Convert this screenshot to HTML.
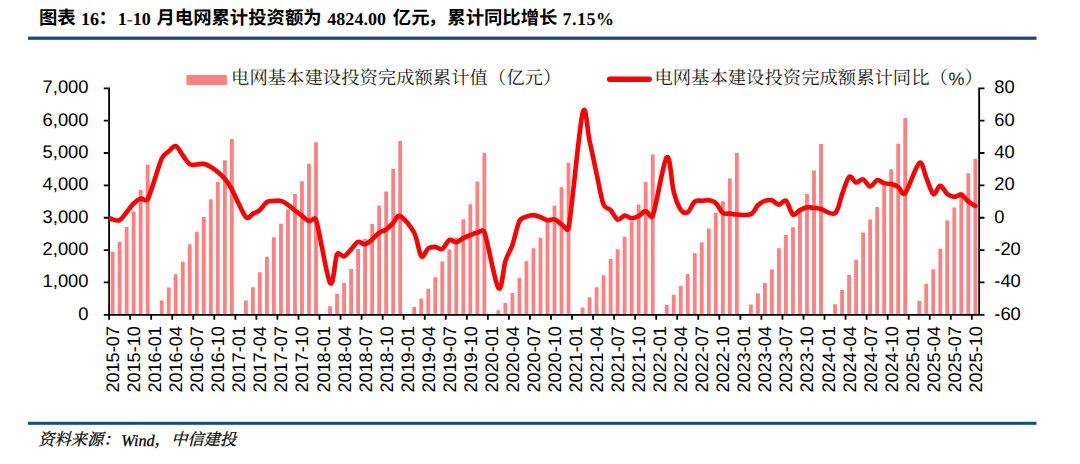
<!DOCTYPE html>
<html lang="zh-CN">
<head>
<meta charset="utf-8">
<title>图表 16：1-10 月电网累计投资额为 4824.00 亿元，累计同比增长 7.15%</title>
<style>
html,body{margin:0;padding:0;background:#fff}
body{width:1080px;height:464px;position:relative;overflow:hidden;font-family:"Liberation Sans",sans-serif;text-rendering:geometricPrecision}
svg text{text-rendering:geometricPrecision}
#g{position:absolute;left:0;top:0;width:1080px;height:464px;display:block}
.row{position:absolute;left:0;width:1080px;white-space:nowrap;margin:0;color:#000}
.row span{position:absolute;top:0;white-space:nowrap}
#title{top:8.63px;height:20px;line-height:20px;font:bold 18px/20px "Liberation Serif",serif}
#source{top:431.6px;height:18px;font:italic 16.25px/18px "Liberation Serif",serif;-webkit-text-stroke:0.25px #000}
.hy{font-style:normal;color:#555;position:relative;top:.6px}
.cj{font-size:18.35px}
#title .cj{font-family:"Liberation Sans","Noto Sans CJK SC",sans-serif;top:-1.06px}
#legend .cj{font-family:"Liberation Serif","Noto Serif CJK SC",serif;top:-1.16px}
#source .cj{font-family:"Liberation Serif","Noto Serif CJK SC",serif;font-size:16.25px;top:-0.8px}
#legend{top:69.16px;height:20px;font:18px/20px "Liberation Sans",sans-serif;color:#1a1a1a}
</style>
</head>
<body>
<svg id="g" width="1080" height="464" viewBox="0 0 1080 464">
<rect x="28" y="36.6" width="1008.5" height="3.2" fill="#1c457b"/>
<rect x="28" y="421.8" width="1008.5" height="3" fill="#0e4e84"/>
<path fill="#ff8080" d="M110.71 314.8V251.7h3.8V314.8zM117.72 314.8V241.67h3.8V314.8zM124.73 314.8V226.89h3.8V314.8zM131.75 314.8V211.61h3.8V314.8zM138.76 314.8V190.06h3.8V314.8zM145.78 314.8V164.66h3.8V314.8zM159.8 314.8V300.53h3.8V314.8zM166.82 314.8V287.52h3.8V314.8zM173.83 314.8V274.22h3.8V314.8zM180.85 314.8V261.7h3.8V314.8zM187.86 314.8V244.16h3.8V314.8zM194.87 314.8V231.64h3.8V314.8zM201.89 314.8V217.11h3.8V314.8zM208.9 314.8V199.29h3.8V314.8zM215.92 314.8V182.07h3.8V314.8zM222.93 314.8V160.33h3.8V314.8zM229.94 314.8V139.1h3.8V314.8zM243.97 314.8V300.53h3.8V314.8zM250.99 314.8V287.26h3.8V314.8zM258 314.8V272.22h3.8V314.8zM265.01 314.8V256.69h3.8V314.8zM272.03 314.8V237.18h3.8V314.8zM279.04 314.8V223.65h3.8V314.8zM286.06 314.8V209.61h3.8V314.8zM293.07 314.8V194.04h3.8V314.8zM300.09 314.8V181.29h3.8V314.8zM307.1 314.8V163.82h3.8V314.8zM314.11 314.8V142.34h3.8V314.8zM328.14 314.8V306.29h3.8V314.8zM335.16 314.8V293.77h3.8V314.8zM342.17 314.8V282.86h3.8V314.8zM349.18 314.8V269.05h3.8V314.8zM356.2 314.8V248.92h3.8V314.8zM363.21 314.8V238.86h3.8V314.8zM370.23 314.8V224.1h3.8V314.8zM377.24 314.8V205.66h3.8V314.8zM384.25 314.8V191.39h3.8V314.8zM391.27 314.8V168.84h3.8V314.8zM398.28 314.8V140.95h3.8V314.8zM412.31 314.8V306.9h3.8V314.8zM419.32 314.8V298.56h3.8V314.8zM426.34 314.8V288.82h3.8V314.8zM433.35 314.8V277.36h3.8V314.8zM440.37 314.8V261.6h3.8V314.8zM447.38 314.8V249.41h3.8V314.8zM454.39 314.8V237.85h3.8V314.8zM461.41 314.8V219.25h3.8V314.8zM468.42 314.8V204.3h3.8V314.8zM475.44 314.8V181.62h3.8V314.8zM482.45 314.8V152.63h3.8V314.8zM496.48 314.8V310.33h3.8V314.8zM503.49 314.8V302.99h3.8V314.8zM510.5 314.8V293.12h3.8V314.8zM517.52 314.8V278.11h3.8V314.8zM524.53 314.8V261.18h3.8V314.8zM531.55 314.8V248.37h3.8V314.8zM538.56 314.8V237.79h3.8V314.8zM545.58 314.8V219.99h3.8V314.8zM552.59 314.8V205.72h3.8V314.8zM559.6 314.8V187.25h3.8V314.8zM566.62 314.8V162.75h3.8V314.8zM580.64 314.8V307.45h3.8V314.8zM587.66 314.8V297.33h3.8V314.8zM594.67 314.8V287.23h3.8V314.8zM601.69 314.8V275.16h3.8V314.8zM608.7 314.8V258.69h3.8V314.8zM615.72 314.8V249.15h3.8V314.8zM622.73 314.8V236.85h3.8V314.8zM629.74 314.8V221.26h3.8V314.8zM636.76 314.8V204.53h3.8V314.8zM643.77 314.8V182.07h3.8V314.8zM650.79 314.8V154.6h3.8V314.8zM664.81 314.8V304.67h3.8V314.8zM671.83 314.8V294.71h3.8V314.8zM678.84 314.8V285.91h3.8V314.8zM685.86 314.8V273.93h3.8V314.8zM692.87 314.8V253.16h3.8V314.8zM699.88 314.8V242.35h3.8V314.8zM706.9 314.8V228.5h3.8V314.8zM713.91 314.8V212.75h3.8V314.8zM720.93 314.8V201.19h3.8V314.8zM727.94 314.8V178.61h3.8V314.8zM734.95 314.8V152.63h3.8V314.8zM748.98 314.8V304.48h3.8V314.8zM756 314.8V293.19h3.8V314.8zM763.01 314.8V282.96h3.8V314.8zM770.02 314.8V269.5h3.8V314.8zM777.04 314.8V248.34h3.8V314.8zM784.05 314.8V234.78h3.8V314.8zM791.07 314.8V227.27h3.8V314.8zM798.08 314.8V208.44h3.8V314.8zM805.09 314.8V194.08h3.8V314.8zM812.11 314.8V170.55h3.8V314.8zM819.12 314.8V144.12h3.8V314.8zM833.15 314.8V304.22h3.8V314.8zM840.16 314.8V290.01h3.8V314.8zM847.18 314.8V275.03h3.8V314.8zM854.19 314.8V259.7h3.8V314.8zM861.21 314.8V232.61h3.8V314.8zM868.22 314.8V219.44h3.8V314.8zM875.23 314.8V207.05h3.8V314.8zM882.25 314.8V185.95h3.8V314.8zM889.26 314.8V169.13h3.8V314.8zM896.28 314.8V143.63h3.8V314.8zM903.29 314.8V117.97h3.8V314.8zM917.32 314.8V300.69h3.8V314.8zM924.33 314.8V283.87h3.8V314.8zM931.35 314.8V269.24h3.8V314.8zM938.36 314.8V248.79h3.8V314.8zM945.37 314.8V220.61h3.8V314.8zM952.39 314.8V207.54h3.8V314.8zM959.4 314.8V191.97h3.8V314.8zM966.42 314.8V173.14h3.8V314.8zM973.43 314.8V158.71h3.8V314.8z"/>
<path fill="none" stroke="#000" stroke-width="1.8" d="M109.1 87.4V315.7M979.15 87.4V315.7M103.8 314.8H984.45M103.8 282.44H109.1M979.15 282.44H984.45M103.8 250.09H109.1M979.15 250.09H984.45M103.8 217.73H109.1M979.15 217.73H984.45M103.8 185.37H109.1M979.15 185.37H984.45M103.8 153.01H109.1M979.15 153.01H984.45M103.8 120.66H109.1M979.15 120.66H984.45M103.8 88.3H109.1M979.15 88.3H984.45M109.1 314.8V319.8M130.14 314.8V319.8M151.18 314.8V319.8M172.23 314.8V319.8M193.27 314.8V319.8M214.31 314.8V319.8M235.35 314.8V319.8M256.39 314.8V319.8M277.44 314.8V319.8M298.48 314.8V319.8M319.52 314.8V319.8M340.56 314.8V319.8M361.6 314.8V319.8M382.65 314.8V319.8M403.69 314.8V319.8M424.73 314.8V319.8M445.77 314.8V319.8M466.81 314.8V319.8M487.86 314.8V319.8M508.9 314.8V319.8M529.94 314.8V319.8M550.98 314.8V319.8M572.02 314.8V319.8M593.07 314.8V319.8M614.11 314.8V319.8M635.15 314.8V319.8M656.19 314.8V319.8M677.23 314.8V319.8M698.28 314.8V319.8M719.32 314.8V319.8M740.36 314.8V319.8M761.4 314.8V319.8M782.44 314.8V319.8M803.49 314.8V319.8M824.53 314.8V319.8M845.57 314.8V319.8M866.61 314.8V319.8M887.65 314.8V319.8M908.7 314.8V319.8M929.74 314.8V319.8M950.78 314.8V319.8M971.82 314.8V319.8"/>
<clipPath id="pc"><rect x="108.9" y="60" width="900" height="270"/></clipPath>
<path clip-path="url(#pc)" fill="none" stroke="#ff0000" stroke-width="4.6" stroke-linecap="round" stroke-linejoin="round" d="M105.59 216.27C106.76 216.78 110.27 218.7 112.61 219.35C114.94 219.99 117.28 221.34 119.62 220.16C121.96 218.97 124.3 215.01 126.63 212.23C128.97 209.45 131.31 205.76 133.65 203.49C135.99 201.23 138.33 199.34 140.66 198.64C143 197.94 146.04 202.4 147.68 199.28C151.18 192.62 158.2 166.66 161.7 158.68C163.74 154.05 166.38 153.5 168.72 151.4C171.06 149.29 173.4 145.41 175.73 146.06C178.07 146.7 180.41 152.26 182.75 155.28C185.09 158.3 187.42 162.64 189.76 164.18C192.1 165.71 194.44 164.56 196.77 164.5C199.11 164.45 201.45 163.45 203.79 163.85C206.13 164.26 208.47 165.58 210.8 166.93C213.14 168.28 215.48 169.97 217.82 171.94C220.16 173.91 222.49 175.83 224.83 178.74C227.17 181.65 228.77 183.82 231.84 189.42C235.35 195.81 242.37 213.01 245.87 217.08C248.39 220.01 250.55 215.03 252.89 213.85C255.22 212.66 257.56 211.93 259.9 209.96C262.24 207.99 264.58 203.55 266.91 202.04C269.25 200.53 271.59 201.09 273.93 200.9C276.27 200.71 278.6 200.26 280.94 200.9C283.28 201.55 285.62 203.19 287.96 204.79C290.3 206.38 292.63 208.61 294.97 210.45C297.31 212.28 299.65 214.03 301.99 215.79C304.32 217.54 306.66 220.32 309 220.96C311.34 221.61 314.86 216.29 316.01 219.67C319.52 229.97 326.53 277 330.04 282.77C333.55 288.54 334.72 258.69 337.06 254.29C338.77 251.06 341.73 257.23 344.07 256.4C346.41 255.56 348.74 251.7 351.08 249.28C353.42 246.85 355.76 242.67 358.1 241.83C360.44 241 362.77 244.64 365.11 244.26C367.45 243.88 369.79 241.51 372.12 239.57C374.46 237.63 376.8 234.28 379.14 232.61C381.48 230.94 383.81 231.16 386.15 229.54C388.49 227.92 390.83 225.14 393.17 222.91C395.51 220.67 396.67 214.47 400.18 216.11C403.69 217.76 410.7 226.09 414.21 232.77C417.72 239.46 418.88 253.65 421.22 256.23C423.56 258.82 425.9 249.87 428.24 248.31C430.57 246.74 432.91 246.74 435.25 246.85C437.59 246.96 439.93 250.09 442.26 248.95C444.6 247.82 446.94 241.19 449.28 240.06C451.62 238.92 453.95 242.48 456.29 242.16C458.63 241.83 460.97 239.27 463.31 238.11C465.65 236.95 467.98 236.12 470.32 235.2C472.66 234.28 475 233.15 477.34 232.61C479.67 232.07 483.1 228.67 484.35 231.97C487.86 241.19 494.87 283.09 498.38 287.94C501.88 292.8 503.05 268.26 505.39 261.09C507.73 253.91 510.07 251.6 512.4 244.91C514.74 238.22 517.08 225.68 519.42 220.96C521.25 217.26 524.1 217.57 526.43 216.6C528.77 215.63 531.11 215.06 533.45 215.14C535.78 215.22 538.12 216.22 540.46 217.08C542.8 217.94 545.14 219.94 547.48 220.32C549.81 220.69 552.15 218.67 554.49 219.35C556.83 220.02 559.17 222.85 561.5 224.36C563.84 225.87 567.76 232.38 568.52 228.41C572.02 209.91 579.04 127.99 582.54 113.38C585.84 99.65 587.22 130.66 589.56 140.72C591.9 150.78 594.24 163.05 596.57 173.72C598.91 184.4 601.25 198.72 603.59 204.79C605.17 208.9 608.26 207.64 610.6 210.12C612.94 212.61 615.28 218.75 617.62 219.67C619.95 220.59 622.29 215.87 624.63 215.63C626.97 215.38 629.31 218.16 631.64 218.21C633.98 218.27 636.32 217.14 638.66 215.95C641 214.76 643.33 211.1 645.67 211.1C648.01 211.1 651.13 219.92 652.69 215.95C656.19 207 663.21 161.4 666.71 157.38C670.22 153.36 671.39 183.11 673.73 191.84C676.07 200.58 678.4 206.4 680.74 209.8C682.84 212.86 685.42 213.6 687.75 212.23C690.09 210.85 692.43 203.46 694.77 201.55C697.11 199.64 699.45 200.96 701.78 200.74C704.12 200.53 706.46 199.88 708.8 200.26C711.13 200.63 713.47 200.9 715.81 203.01C718.15 205.11 720.49 211.12 722.83 212.88C725.16 214.63 727.5 213.25 729.84 213.52C732.18 213.79 733.35 214.38 736.85 214.49C740.36 214.6 747.37 215.71 750.88 214.17C754.39 212.63 755.56 207.48 757.9 205.27C760.23 203.06 762.57 201.74 764.91 200.9C767.25 200.07 769.59 199.61 771.92 200.26C774.26 200.9 776.6 204.7 778.94 204.79C781.27 204.87 783.61 199.1 785.95 200.74C788.29 202.39 790.63 213.09 792.97 214.65C795.3 216.22 797.64 211.34 799.98 210.12C802.32 208.91 804.66 207.75 806.99 207.37C809.33 207 811.67 207.59 814.01 207.86C816.35 208.13 817.58 208.12 821.02 208.99C824.53 209.88 831.54 215.63 835.05 213.2C838.56 210.77 839.73 200.47 842.06 194.43C844.4 188.39 846.74 178.95 849.08 176.96C851.41 174.96 853.75 182.05 856.09 182.46C858.43 182.86 860.77 178.71 863.11 179.39C865.44 180.06 867.78 186.37 870.12 186.5C872.46 186.64 874.8 180.73 877.13 180.19C879.47 179.66 881.81 182.62 884.15 183.27C886.49 183.92 888.82 183.48 891.16 184.08C893.5 184.67 895.84 185.34 898.18 186.83C900.51 188.31 902.1 196.47 905.19 192.98C908.7 189.01 915.71 165.61 919.22 163.05C922.72 160.48 923.89 172.46 926.23 177.61C928.57 182.76 930.91 192.57 933.25 193.95C935.58 195.32 937.92 185.86 940.26 185.86C942.6 185.86 944.94 192.11 947.27 193.95C949.61 195.78 951.95 196.72 954.29 196.86C956.62 196.99 958.96 193.97 961.3 194.75C963.64 195.54 965.98 199.69 968.32 201.55C970.65 203.41 974.16 205.19 975.33 205.92"/>
<g font-family="'Liberation Sans',sans-serif" font-size="18.35" fill="#000"><text x="88.5" y="319.8" text-anchor="end">0</text><text x="88.5" y="287.44" text-anchor="end">1,000</text><text x="88.5" y="255.09" text-anchor="end">2,000</text><text x="88.5" y="222.73" text-anchor="end">3,000</text><text x="88.5" y="190.37" text-anchor="end">4,000</text><text x="88.5" y="158.01" text-anchor="end">5,000</text><text x="88.5" y="125.66" text-anchor="end">6,000</text><text x="88.5" y="93.3" text-anchor="end">7,000</text><text x="994.3" y="319.8">-60</text><text x="994.3" y="287.44">-40</text><text x="994.3" y="255.09">-20</text><text x="994.3" y="222.73">0</text><text x="994.3" y="190.37">20</text><text x="994.3" y="158.01">40</text><text x="994.3" y="125.66">60</text><text x="994.3" y="93.3">80</text><text font-size="18.1" transform="translate(119.11 326.2) rotate(-90)" text-anchor="end">2015-07</text><text font-size="18.1" transform="translate(140.15 326.2) rotate(-90)" text-anchor="end">2015-10</text><text font-size="18.1" transform="translate(161.19 326.2) rotate(-90)" text-anchor="end">2016-01</text><text font-size="18.1" transform="translate(182.23 326.2) rotate(-90)" text-anchor="end">2016-04</text><text font-size="18.1" transform="translate(203.27 326.2) rotate(-90)" text-anchor="end">2016-07</text><text font-size="18.1" transform="translate(224.32 326.2) rotate(-90)" text-anchor="end">2016-10</text><text font-size="18.1" transform="translate(245.36 326.2) rotate(-90)" text-anchor="end">2017-01</text><text font-size="18.1" transform="translate(266.4 326.2) rotate(-90)" text-anchor="end">2017-04</text><text font-size="18.1" transform="translate(287.44 326.2) rotate(-90)" text-anchor="end">2017-07</text><text font-size="18.1" transform="translate(308.49 326.2) rotate(-90)" text-anchor="end">2017-10</text><text font-size="18.1" transform="translate(329.53 326.2) rotate(-90)" text-anchor="end">2018-01</text><text font-size="18.1" transform="translate(350.57 326.2) rotate(-90)" text-anchor="end">2018-04</text><text font-size="18.1" transform="translate(371.61 326.2) rotate(-90)" text-anchor="end">2018-07</text><text font-size="18.1" transform="translate(392.65 326.2) rotate(-90)" text-anchor="end">2018-10</text><text font-size="18.1" transform="translate(413.7 326.2) rotate(-90)" text-anchor="end">2019-01</text><text font-size="18.1" transform="translate(434.74 326.2) rotate(-90)" text-anchor="end">2019-04</text><text font-size="18.1" transform="translate(455.78 326.2) rotate(-90)" text-anchor="end">2019-07</text><text font-size="18.1" transform="translate(476.82 326.2) rotate(-90)" text-anchor="end">2019-10</text><text font-size="18.1" transform="translate(497.86 326.2) rotate(-90)" text-anchor="end">2020-01</text><text font-size="18.1" transform="translate(518.9 326.2) rotate(-90)" text-anchor="end">2020-04</text><text font-size="18.1" transform="translate(539.95 326.2) rotate(-90)" text-anchor="end">2020-07</text><text font-size="18.1" transform="translate(560.99 326.2) rotate(-90)" text-anchor="end">2020-10</text><text font-size="18.1" transform="translate(582.03 326.2) rotate(-90)" text-anchor="end">2021-01</text><text font-size="18.1" transform="translate(603.07 326.2) rotate(-90)" text-anchor="end">2021-04</text><text font-size="18.1" transform="translate(624.12 326.2) rotate(-90)" text-anchor="end">2021-07</text><text font-size="18.1" transform="translate(645.16 326.2) rotate(-90)" text-anchor="end">2021-10</text><text font-size="18.1" transform="translate(666.2 326.2) rotate(-90)" text-anchor="end">2022-01</text><text font-size="18.1" transform="translate(687.24 326.2) rotate(-90)" text-anchor="end">2022-04</text><text font-size="18.1" transform="translate(708.28 326.2) rotate(-90)" text-anchor="end">2022-07</text><text font-size="18.1" transform="translate(729.33 326.2) rotate(-90)" text-anchor="end">2022-10</text><text font-size="18.1" transform="translate(750.37 326.2) rotate(-90)" text-anchor="end">2023-01</text><text font-size="18.1" transform="translate(771.41 326.2) rotate(-90)" text-anchor="end">2023-04</text><text font-size="18.1" transform="translate(792.45 326.2) rotate(-90)" text-anchor="end">2023-07</text><text font-size="18.1" transform="translate(813.49 326.2) rotate(-90)" text-anchor="end">2023-10</text><text font-size="18.1" transform="translate(834.54 326.2) rotate(-90)" text-anchor="end">2024-01</text><text font-size="18.1" transform="translate(855.58 326.2) rotate(-90)" text-anchor="end">2024-04</text><text font-size="18.1" transform="translate(876.62 326.2) rotate(-90)" text-anchor="end">2024-07</text><text font-size="18.1" transform="translate(897.66 326.2) rotate(-90)" text-anchor="end">2024-10</text><text font-size="18.1" transform="translate(918.7 326.2) rotate(-90)" text-anchor="end">2025-01</text><text font-size="18.1" transform="translate(939.75 326.2) rotate(-90)" text-anchor="end">2025-04</text><text font-size="18.1" transform="translate(960.79 326.2) rotate(-90)" text-anchor="end">2025-07</text><text font-size="18.1" transform="translate(981.83 326.2) rotate(-90)" text-anchor="end">2025-10</text></g>
<rect x="186.5" y="75" width="40.4" height="10" fill="#ff8080"/>
<path d="M609.6 79.3H649.2" stroke="#ff0000" stroke-width="5.4" stroke-linecap="round" fill="none"/>
</svg>
<h1 class="row" id="title"><span class="cj" style="left:39px;width:36.4px">图表</span><span class="la" style="left:81px">16</span><span class="cj" style="left:98.6px;width:18px">：</span><span class="la" style="left:117.8px">1<i class="hy">-</i>10</span><span class="cj" style="left:156.5px;width:165.15px">月电网累计投资额为</span><span class="la" style="left:327.2px;letter-spacing:0.07px">4824.00</span><span class="cj" style="left:392.8px;width:36.4px">亿元</span><span class="cj" style="left:428px;width:18px">，</span><span class="cj" style="left:447.3px;width:110.1px">累计同比增长</span><span class="la" style="left:562.6px;letter-spacing:0.45px">7.15%</span></h1>
<div class="row" id="legend"><span class="cj" style="left:231.1px;width:330px">电网基本建设投资完成额累计值（亿元）</span><span class="cj" style="left:654.4px;width:293px">电网基本建设投资完成额累计同比（</span><span class="la" style="left:948.4px">%</span><span class="cj" style="left:964.5px;width:18px">）</span></div>
<p class="row" id="source"><span class="cj" style="left:38.3px;width:65px">资料来源</span><span class="cj" style="left:103.5px;width:16px">：</span><span class="la" style="left:121.3px">Wind</span><span class="cj" style="left:154.5px;width:16px">，</span><span class="cj" style="left:171.3px;width:65px">中信建投</span></p>
</body>
</html>
